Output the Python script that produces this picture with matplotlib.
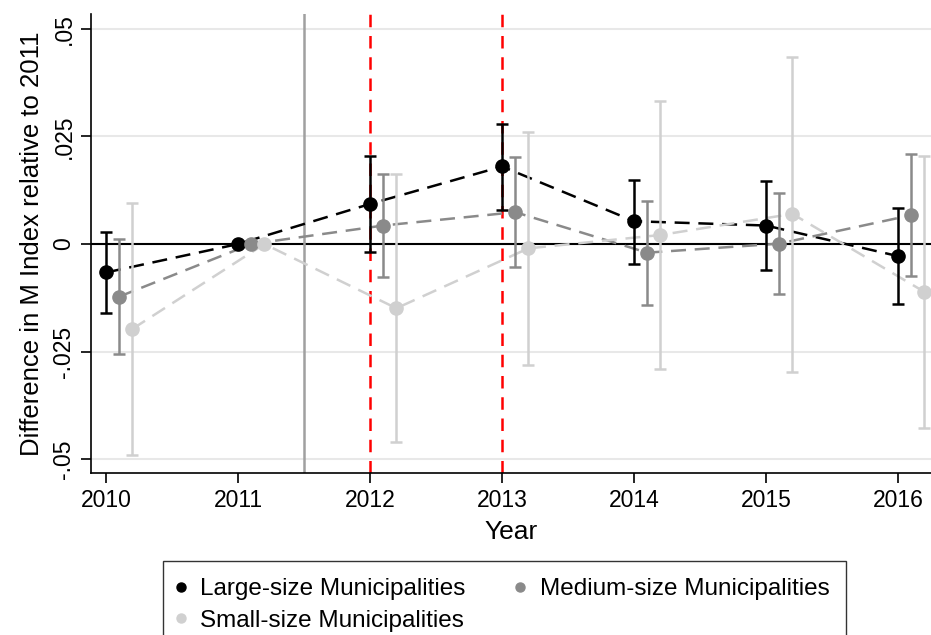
import numpy as np
import matplotlib
matplotlib.use('Agg')
import matplotlib.pyplot as plt
from matplotlib.lines import Line2D

plt.rcParams['font.family'] = ['Liberation Sans', 'DejaVu Sans']

years = [2010, 2011, 2012, 2013, 2014, 2015, 2016]
groups = ['Large-size Municipalities', 'Medium-size Municipalities', 'Small-size Municipalities']

large_est = [-0.0066, 0.0, 0.0093, 0.0180, 0.0053, 0.0043, -0.0028]
large_lo = [-0.0160, np.nan, -0.0019, 0.0078, -0.0046, -0.0061, -0.0140]
large_hi = [0.0029, np.nan, 0.0205, 0.0279, 0.0149, 0.0146, 0.0084]

medium_est = [-0.0122, 0.0, 0.0043, 0.0074, -0.0020, 0.0001, 0.0067]
medium_lo = [-0.0255, np.nan, -0.0076, -0.0053, -0.0142, -0.0116, -0.0075]
medium_hi = [0.0012, np.nan, 0.0162, 0.0203, 0.0101, 0.0118, 0.0210]

small_est = [-0.0197, 0.0, -0.0149, -0.0010, 0.0021, 0.0070, -0.0111]
small_lo = [-0.0489, np.nan, -0.0459, -0.0280, -0.0290, -0.0296, -0.0427]
small_hi = [0.0095, np.nan, 0.0163, 0.0260, 0.0331, 0.0434, 0.0205]

yticks = [-0.05, -0.025, 0, 0.025, 0.05]
ytick_labels = ['-.05', '-.025', '0', '.025', '.05']

colors = ['black', '#8a8a8a', '#d0d0d0']
offsets = [0.0, 0.1, 0.2]

fig = plt.figure(figsize=(9.31, 6.35), dpi=100)
ax = fig.add_axes([0.0974, 0.2547, 0.9026, 0.7233])

ax.axhline(0, color='black', lw=1.5, zorder=1)
ax.axvline(2011.5, color='#a0a0a0', lw=1.8, zorder=1)
for yr in [2012, 2013]:
    ax.axvline(yr, color='#ff0000', lw=1.8, ls=(0, (5, 3.5)), zorder=1)

series = [(large_est, large_lo, large_hi),
          (medium_est, medium_lo, medium_hi),
          (small_est, small_lo, small_hi)]

handles = []
for (est, lo, hi), col, off, name in zip(series, colors, offsets, groups):
    x = np.array(years) + off
    est = np.array(est)
    lo = np.array(lo)
    hi = np.array(hi)
    ax.plot(x, est, color=col, lw=1.8, ls=(0, (6, 3.5)), zorder=2)
    mask = ~np.isnan(lo)
    ax.errorbar(x[mask], est[mask], yerr=[est[mask] - lo[mask], hi[mask] - est[mask]],
                fmt='none', ecolor=col, elinewidth=1.8, capsize=4.5, capthick=1.8, zorder=3)
    ax.plot(x, est, 'o', color=col, ms=9.5, zorder=4)
    handles.append(Line2D([], [], marker='o', color=col, ls='none', ms=6.5))

ax.set_xlim(2009.884, 2016.25)
ax.set_ylim(-0.0532, 0.0534)
ax.set_xticks(years)
ax.set_xticklabels([str(y) for y in years], fontsize=16.5)
ax.set_yticks(yticks)
ax.set_yticklabels(ytick_labels, fontsize=16.5, rotation=90, va='center')
ax.yaxis.grid(True, color='#e8e8e8', lw=1.5)
ax.set_axisbelow(True)
ax.tick_params(length=7, width=1.2, direction='out', pad=4)
ax.spines['top'].set_visible(False)
ax.spines['right'].set_visible(False)
ax.spines['left'].set_linewidth(1.2)
ax.spines['bottom'].set_linewidth(1.2)
ax.set_xlabel('Year', fontsize=19, labelpad=6)
ax.set_ylabel('Difference in M Index relative to 2011', fontsize=18.5, labelpad=6)

leg = fig.legend([handles[0], handles[2], handles[1]], [groups[0], groups[2], groups[1]],
                 ncol=2, loc='upper left', bbox_to_anchor=(163 / 931, 1 - 561 / 635),
                 borderaxespad=0, fontsize=17.5, frameon=True, fancybox=False,
                 edgecolor='black', handlelength=0.1, handletextpad=0.74,
                 columnspacing=2.2, borderpad=0.7, labelspacing=0.4)
leg.get_frame().set_linewidth(1.0)

fig.savefig('out.png', dpi=100)
